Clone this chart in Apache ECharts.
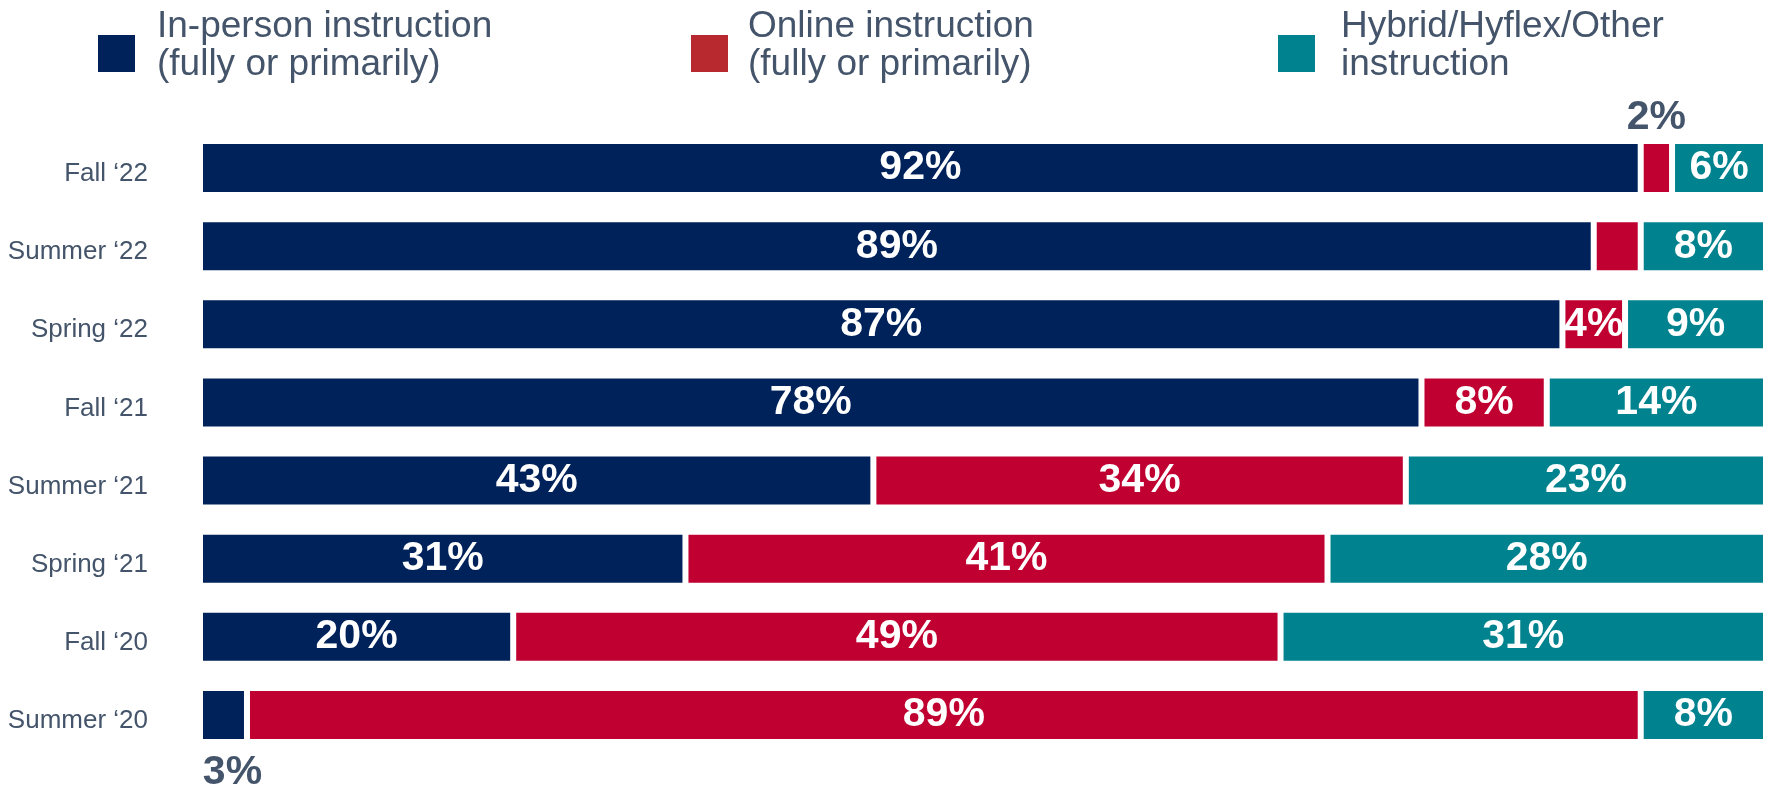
<!DOCTYPE html>
<html>
<head>
<meta charset="utf-8">
<script src="https://cdn.jsdelivr.net/npm/echarts@6/dist/echarts.min.js"></script>
<style>
  html, body { margin: 0; padding: 0; background: #fff; }
  #chart { width: 1767px; height: 791px; }
</style>
</head>
<body>
<div id="chart"></div>
<script>
// terms, top to bottom
const terms = ['Fall ‘22', 'Summer ‘22', 'Spring ‘22', 'Fall ‘21', 'Summer ‘21', 'Spring ‘21', 'Fall ‘20', 'Summer ‘20'];
// share of courses (%)
const inPerson = [92, 89, 87, 78, 43, 31, 20, 3];
const online = [2, 3, 4, 8, 34, 41, 49, 89];
const hybrid = [6, 8, 9, 14, 23, 28, 31, 8];

const seriesNames = [
  'In-person instruction\n(fully or primarily)',
  'Online instruction\n(fully or primarily)',
  'Hybrid/Hyflex/Other\ninstruction'
];

const font = "'Liberation Sans', Arial, sans-serif";
const slate = '#44546a';
const navy = '#00225a';
const red = '#c00030';
const teal = '#00838f';

let chart = echarts.init(document.getElementById('chart'));

// label tweaks for the small segments
const outsideLabel = {
  color: slate,
  fontSize: 41,
  fontWeight: 'bold',
  fontFamily: font
};

const inPersonData = inPerson.map((v, i) => {
  if (v < 5) {
    return { value: v, label: Object.assign({ position: 'bottom', distance: 10, offset: [9, 0] }, outsideLabel) };
  }
  return v;
});
const onlineData = online.map((v, i) => {
  if (i === 0) {
    return { value: v, label: Object.assign({ position: 'top', distance: 3 }, outsideLabel) };
  }
  if (i === 1) {
    return { value: v, label: { show: false } };
  }
  return v;
});

const barLabel = {
  show: true,
  position: 'inside',
  color: '#fff',
  fontSize: 41,
  fontWeight: 'bold',
  fontFamily: font,
  formatter: '{c}%'
};

function makeSeries(name, data, color) {
  return {
    name: name,
    type: 'bar',
    stack: 'total',
    barWidth: 54,
    data: data,
    itemStyle: {
      color: color,
      borderColor: '#fff',
      borderWidth: 3
    },
    label: barLabel,
    emphasis: { disabled: true }
  };
}

function makeLegend(name, left, color, gap) {
  return {
    data: [{ name: name, itemStyle: { color: color } }],
    left: left,
    top: 8,
    padding: 0,
    icon: 'rect',
    itemWidth: 39,
    itemHeight: 39,
    selectedMode: false,
    // small spacer line under the text lifts it a little above the icon centre
    formatter: (n) => n + '\n{s| }',
    textStyle: {
      color: slate,
      fontSize: 37,
      lineHeight: 38,
      fontFamily: font,
      padding: [0, 0, 0, gap],
      rich: {
        s: { fontSize: 8, lineHeight: 15 }
      }
    }
  };
}

let option = {
  backgroundColor: '#fff',
  animation: false,
  legend: [
    makeLegend(seriesNames[0], 96, navy, 16),
    makeLegend(seriesNames[1], 689, '#b8282f', 14),
    makeLegend(seriesNames[2], 1276, teal, 20)
  ],
  grid: {
    left: 200,
    right: 1,
    top: 129,
    bottom: 37
  },
  xAxis: {
    type: 'value',
    min: 0,
    max: 100,
    show: false
  },
  yAxis: {
    type: 'category',
    inverse: true,
    data: terms,
    axisLine: { show: false },
    axisTick: { show: false },
    axisLabel: {
      margin: 52,
      color: slate,
      fontSize: 26,
      fontFamily: font,
      verticalAlign: 'top',
      lineHeight: 12
    }
  },
  series: [
    makeSeries(seriesNames[0], inPersonData, navy),
    makeSeries(seriesNames[1], onlineData, red),
    makeSeries(seriesNames[2], hybrid, teal)
  ]
};

chart.setOption(option);
window.addEventListener('resize', () => {
  chart.resize();
});
</script>
</body>
</html>
